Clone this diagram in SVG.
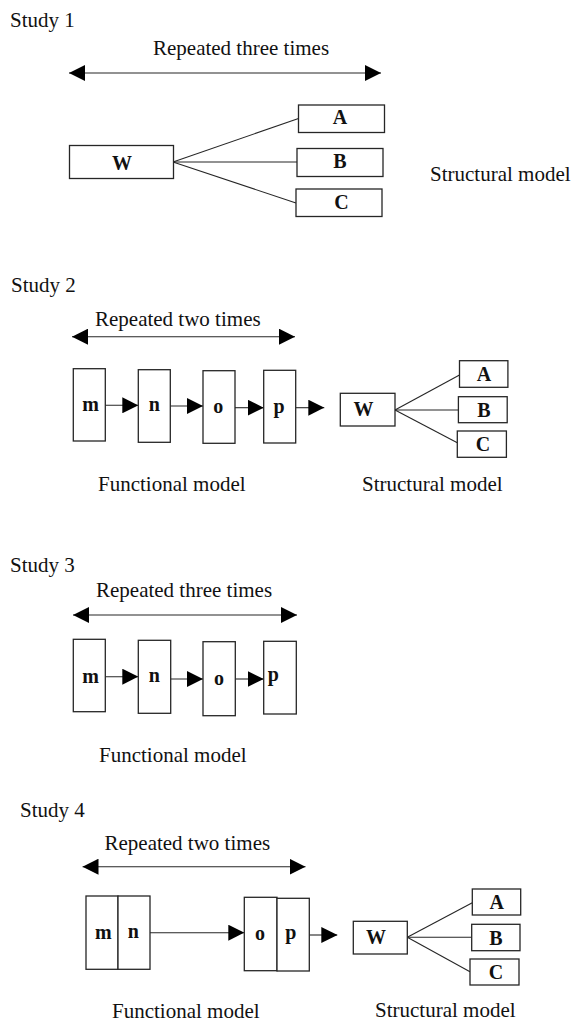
<svg xmlns="http://www.w3.org/2000/svg" width="575" height="1021" viewBox="0 0 575 1021">
<style>
  .bg{fill:#ffffff}
  .box{fill:#ffffff;stroke:#262626;stroke-width:1.3}
  .lbl{font-family:"Liberation Serif","Times New Roman",serif;font-size:21px;fill:#111}
  .nl{font-family:"Liberation Serif","Times New Roman",serif;font-size:20px;font-weight:bold;fill:#111;text-anchor:middle}
  .ln{stroke:#262626;stroke-width:1.1;fill:none}
  .arr{stroke:#262626;stroke-width:1.1;fill:none;marker-end:url(#ah)}
  .darr{stroke:#262626;stroke-width:1.1;fill:none;marker-end:url(#ah);marker-start:url(#ah)}
</style>
<defs>
  <marker id="ah" markerUnits="userSpaceOnUse" markerWidth="16" markerHeight="16" refX="16" refY="8" orient="auto-start-reverse">
    <path d="M0,0 L16,8 L0,16 z" fill="#000"/>
  </marker>
</defs>
<rect class="bg" x="0" y="0" width="575" height="1021"/>

<!-- Text labels -->
<g id="labels">
  <text class="lbl" x="10" y="27">Study 1</text>
  <text class="lbl" x="153" y="55">Repeated three times</text>
  <text class="lbl" x="430" y="181">Structural model</text>

  <text class="lbl" x="11" y="292">Study 2</text>
  <text class="lbl" x="95" y="326">Repeated two times</text>
  <text class="lbl" x="98" y="491">Functional model</text>
  <text class="lbl" x="362" y="491">Structural model</text>

  <text class="lbl" x="10" y="572">Study 3</text>
  <text class="lbl" x="96" y="597">Repeated three times</text>
  <text class="lbl" x="99" y="762">Functional model</text>

  <text class="lbl" x="20" y="817">Study 4</text>
  <text class="lbl" x="104.5" y="850">Repeated two times</text>
  <text class="lbl" x="112" y="1018">Functional model</text>
  <text class="lbl" x="375" y="1017">Structural model</text>
</g>

<!-- Connectors -->
<g id="connectors">
  <!-- Study 1 -->
  <line class="darr" x1="69" y1="73" x2="381" y2="73"/>
  <line class="ln" x1="173" y1="162" x2="298.5" y2="118.5"/>
  <line class="ln" x1="173" y1="162" x2="297" y2="162"/>
  <line class="ln" x1="173" y1="162" x2="296" y2="203"/>
  <!-- Study 2 -->
  <line class="darr" x1="72" y1="336.7" x2="295" y2="336.7"/>
  <line class="arr" x1="105.3" y1="405.3" x2="138.3" y2="405.3"/>
  <line class="arr" x1="170.3" y1="406" x2="203" y2="406"/>
  <line class="arr" x1="235" y1="407.7" x2="263.7" y2="407.7"/>
  <line class="arr" x1="295.7" y1="407.7" x2="324.3" y2="407.7"/>
  <line class="ln" x1="395" y1="410" x2="459.5" y2="375"/>
  <line class="ln" x1="395" y1="410" x2="458.4" y2="410"/>
  <line class="ln" x1="395" y1="410" x2="457.3" y2="442.7"/>
  <!-- Study 3 -->
  <line class="darr" x1="73" y1="615" x2="297" y2="615"/>
  <line class="arr" x1="105.3" y1="676.7" x2="138.3" y2="676.7"/>
  <line class="arr" x1="170.7" y1="679" x2="203" y2="679"/>
  <line class="arr" x1="235.3" y1="679" x2="263.7" y2="679"/>
  <!-- Study 4 -->
  <line class="darr" x1="82.5" y1="866.7" x2="305.5" y2="866.7"/>
  <line class="arr" x1="150" y1="932.7" x2="244.3" y2="932.7"/>
  <line class="arr" x1="309.3" y1="935" x2="337.3" y2="935"/>
  <line class="ln" x1="407.3" y1="937.3" x2="472.3" y2="902.7"/>
  <line class="ln" x1="407.3" y1="937.3" x2="471.7" y2="937.3"/>
  <line class="ln" x1="407.3" y1="937.3" x2="470" y2="971.7"/>
</g>

<!-- Study 1 nodes -->
<g id="s1-W"><rect class="box" x="69.5" y="145.5" width="104" height="33"/><text class="nl" x="122" y="170">W</text></g>
<g id="s1-A"><rect class="box" x="298.5" y="105" width="86" height="27.5"/><text class="nl" x="340" y="124">A</text></g>
<g id="s1-B"><rect class="box" x="297" y="148.5" width="86" height="28"/><text class="nl" x="340" y="168">B</text></g>
<g id="s1-C"><rect class="box" x="296" y="189" width="86" height="27.5"/><text class="nl" x="341.5" y="209">C</text></g>

<!-- Study 2 nodes -->
<g id="s2-m"><rect class="box" x="73.3" y="368.7" width="32" height="72.3"/><text class="nl" x="90.7" y="411">m</text></g>
<g id="s2-n"><rect class="box" x="138.3" y="369.7" width="32" height="72.6"/><text class="nl" x="154.3" y="411">n</text></g>
<g id="s2-o"><rect class="box" x="203" y="370.7" width="32" height="72.6"/><text class="nl" x="218.3" y="413">o</text></g>
<g id="s2-p"><rect class="box" x="263.7" y="370.3" width="32" height="72.7"/><text class="nl" x="279" y="413">p</text></g>
<g id="s2-W"><rect class="box" x="340.3" y="393.3" width="54.7" height="32.7"/><text class="nl" x="363.5" y="416">W</text></g>
<g id="s2-A"><rect class="box" x="459.5" y="360.7" width="48.4" height="26.6"/><text class="nl" x="484" y="381">A</text></g>
<g id="s2-B"><rect class="box" x="458.4" y="396.7" width="48.8" height="26"/><text class="nl" x="484" y="417">B</text></g>
<g id="s2-C"><rect class="box" x="457.3" y="431" width="49.1" height="26.3"/><text class="nl" x="483" y="451">C</text></g>

<!-- Study 3 nodes -->
<g id="s3-m"><rect class="box" x="73.3" y="639.3" width="32" height="72.4"/><text class="nl" x="90.7" y="683">m</text></g>
<g id="s3-n"><rect class="box" x="138.3" y="640.3" width="32.4" height="73"/><text class="nl" x="154.3" y="682">n</text></g>
<g id="s3-o"><rect class="box" x="203" y="641.7" width="32.3" height="74"/><text class="nl" x="219" y="685">o</text></g>
<g id="s3-p"><rect class="box" x="263.7" y="641.3" width="32.6" height="72.7"/><text class="nl" x="273.3" y="681">p</text></g>

<!-- Study 4 nodes -->
<g id="s4-m"><rect class="box" x="86" y="896" width="32" height="73.3"/><text class="nl" x="103.3" y="939">m</text></g>
<g id="s4-n"><rect class="box" x="118" y="896" width="32" height="73.3"/><text class="nl" x="133.3" y="938">n</text></g>
<g id="s4-o"><rect class="box" x="244.3" y="897.3" width="32.7" height="73.4"/><text class="nl" x="260" y="940">o</text></g>
<g id="s4-p"><rect class="box" x="277" y="898.3" width="32.3" height="72.7"/><text class="nl" x="290.7" y="939">p</text></g>
<g id="s4-W"><rect class="box" x="353.3" y="921.3" width="54" height="32.7"/><text class="nl" x="376" y="944">W</text></g>
<g id="s4-A"><rect class="box" x="472.3" y="889" width="48.4" height="26"/><text class="nl" x="496.7" y="909">A</text></g>
<g id="s4-B"><rect class="box" x="471.7" y="924.3" width="48.3" height="26.4"/><text class="nl" x="496" y="945">B</text></g>
<g id="s4-C"><rect class="box" x="470" y="959" width="49" height="26"/><text class="nl" x="496" y="979">C</text></g>
</svg>
